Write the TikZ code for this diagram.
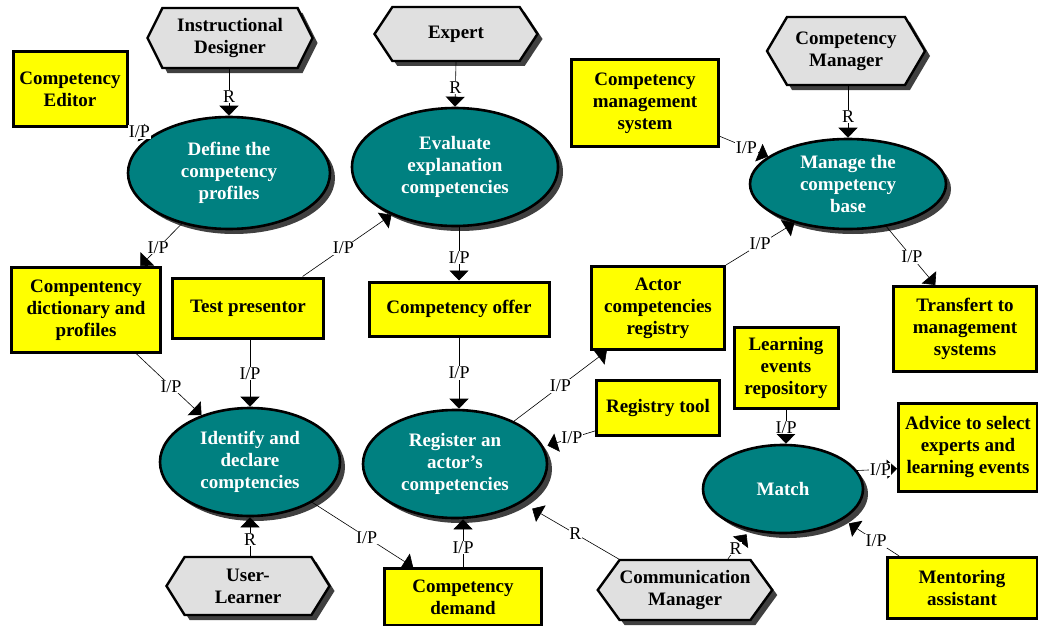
\documentclass[tikz,border=0pt]{standalone}
\usepackage{fontspec}
\setmainfont{Liberation Serif}
\usetikzlibrary{shapes.geometric,shapes.symbols,shadows,arrows.meta,calc}
\definecolor{procfill}{RGB}{0,128,128}
\definecolor{resfill}{RGB}{255,255,0}
\definecolor{actfill}{RGB}{224,224,224}
\definecolor{shade}{RGB}{64,64,64}
\tikzset{
  boldtext/.style={font=\fontsize{19}{22}\selectfont\bfseries, align=center},
  darkshadow/.style={drop shadow={shadow xshift=5pt, shadow yshift=-5pt, fill=shade, opacity=1}},
  actor/.style={boldtext, signal, signal to=west and east, draw=black, line width=2.4pt,
    fill=actfill, inner sep=0pt, darkshadow},
  resource/.style={boldtext, rectangle, draw=black, line width=3pt, fill=resfill, inner sep=0pt},
  process/.style={boldtext, ellipse, draw=black, line width=2.6pt, fill=procfill,
    text=white, inner sep=0pt, darkshadow},
  flow/.style={line width=0.6pt, -{Triangle[width=19pt,length=10pt]}},
  tag/.style={fill=white, inner sep=0.6pt, font=\fontsize{18}{18}\selectfont}
}
\begin{document}
\begin{tikzpicture}[x=1pt,y=-1pt]
\path[fill=white,use as bounding box] (0,0) rectangle (1038,626);

% actors
\node[actor, signal pointer angle=127, minimum width=165, minimum height=60] (id) at (230,38) {Instructional\\Designer};
\node[actor, signal pointer angle=113, minimum width=163, minimum height=54] (ex) at (456,34) {Expert};
\node[actor, signal pointer angle=119, minimum width=158, minimum height=68] (cmg) at (846,51) {Competency\\Manager};
\node[actor, signal pointer angle=116, minimum width=163, minimum height=58] (ul) at (248,586) {User-\\Learner};
\node[actor, signal pointer angle=108, minimum width=174, minimum height=60] (cmm) at (685,590) {Communication\\Manager};

% resources
\node[resource, minimum width=114, minimum height=74] (ce) at (70,89) {Competency\\Editor};
\node[resource, minimum width=147, minimum height=86] (cms) at (645,103) {Competency\\management\\system};
\node[resource, minimum width=149, minimum height=85] (dict) at (86,310) {Compentency\\dictionary and\\profiles};
\node[resource, minimum width=151, minimum height=60] (tp) at (248,308) {Test presentor};
\node[resource, minimum width=180, minimum height=54] (co) at (459,309) {Competency offer};
\node[resource, minimum width=133, minimum height=83] (acr) at (658,308) {Actor\\competencies\\registry};
\node[resource, minimum width=123, minimum height=55] (rt) at (658,408) {Registry tool};
\node[resource, minimum width=104, minimum height=81] (ler) at (786,368) {Learning\\events\\repository};
\node[resource, minimum width=143, minimum height=85] (tr) at (965,329) {Transfert to\\management\\systems};
\node[resource, minimum width=139, minimum height=88] (adv) at (968,447) {Advice to select\\experts and\\learning events};
\node[resource, minimum width=157, minimum height=57] (cd) at (463,597) {Competency\\demand};
\node[resource, minimum width=150, minimum height=61] (ment) at (962,588) {Mentoring\\assistant};

% processes
\node[process, minimum width=202, minimum height=112] (def) at (229,173) {Define the\\competency\\profiles};
\node[process, minimum width=206, minimum height=118] (ev) at (455,167) {Evaluate\\explanation\\competencies};
\node[process, minimum width=196, minimum height=90] (mg) at (848,184) {Manage the\\competency\\base};
\node[process, minimum width=180, minimum height=108] (idc) at (250,462) {Identify and\\declare\\comptencies};
\node[process, minimum width=184, minimum height=108] (reg) at (455,464) {Register an\\actor's\\competencies};
\node[process, minimum width=160, minimum height=88] (ma) at (783,489) {Match};

% responsibility links
\draw[flow] (def.north |- id.south) -- node[tag,pos=0.59]{R} (def.north);
\draw[flow] (ex.south) -- node[tag,pos=0.57]{R} (ev.north);
\draw[flow] (mg.north |- cmg.south) -- node[tag,pos=0.59]{R} (mg.north);
\draw[flow] (idc.south |- ul.north) -- node[tag,pos=0.42]{R} (idc.south);
\draw[flow, shorten >=12pt] (cmm.155) -- node[tag,pos=0.45]{R} (reg.-30);
\draw[flow, shorten >=5pt] (cmm.36) -- node[tag,pos=0.36]{R} (ma.231);

% input/product links
\draw[flow] (ce.south east) -- node[tag,pos=0.5]{I/P} (def.155);
\draw[flow] (def.227) -- node[tag,pos=0.57]{I/P} (dict.39);
\draw[flow] (tp.30) -- node[tag,pos=0.46]{I/P} (ev.217);
\draw[flow] (co.north |- ev.south) -- node[tag,pos=0.57]{I/P} (co.north);
\draw[flow] (dict.-41) -- node[tag,pos=0.53]{I/P} (idc.136);
\draw[flow] (idc.north |- tp.south) -- node[tag,pos=0.51]{I/P} (idc.north);
\draw[flow] (co.south) -- node[tag,pos=0.5]{I/P} (co.south |- reg.north);
\draw[flow] (reg.36) -- node[tag,pos=0.5]{I/P} (acr.220);
\draw[flow, shorten >=4pt] (rt.200) -- node[tag,pos=0.45]{I/P} (reg.11);
\draw[flow] (acr.north east) -- node[tag,pos=0.5]{I/P} (mg.216);
\draw[flow] (cms.-24) -- node[tag,pos=0.55]{I/P} (mg.161);
\draw[flow] (mg.-48) -- node[tag,pos=0.52]{I/P} (tr.124);
\draw[flow] (ler.south) -- node[tag,pos=0.53]{I/P} (ler.south |- ma.north);
\draw[flow] (ma.14) -- node[tag,pos=0.58]{I/P} (adv.197);
\draw[flow, shorten >=7pt] (ment.153) -- node[tag,pos=0.41]{I/P} (ma.-27);
\draw[flow] (idc.-33) -- node[tag,pos=0.54]{I/P} (cd.149);
\draw[flow] (cd.north) -- node[tag,pos=0.41]{I/P} (cd.north |- reg.south);
\end{tikzpicture}
\end{document}
